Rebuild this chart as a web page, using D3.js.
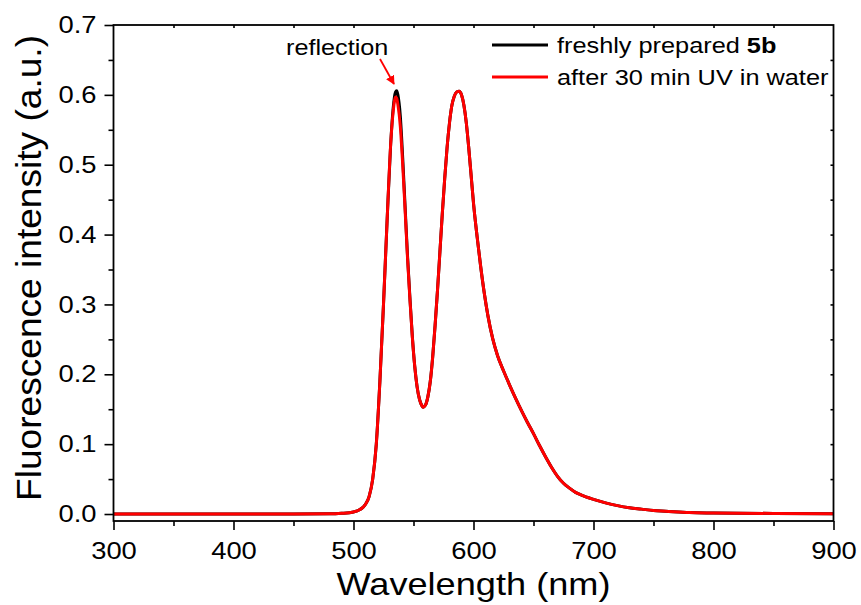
<!DOCTYPE html>
<html><head><meta charset="utf-8">
<script src="https://cdn.jsdelivr.net/npm/d3@7"></script>
<style>body{margin:0;background:#fff}svg{display:block}text{font-family:"Liberation Sans",Arial,sans-serif;fill:#000}</style>
</head><body>
<svg id="c" width="861" height="605"></svg>
<script>
const wavelength = [300,350,400,450,480,490,500,505,510,513,516,519,522,525,528,531,533,535,536,537,539,541,543,545,547,549,551,553,555,557,558,560,562,564,566,568,570,572,574,576,578,580,582,584,586,588,590,592,594,596,598,600,603,606,609,612,616,620,625,630,635,640,645,650,655,660,665,670,675,680,685,690,700,710,720,730,740,750,760,780,800,850,900];
const freshly = [0,0,0,0,0.0002,0.001,0.003,0.006,0.014,0.025,0.05,0.10,0.19,0.30,0.42,0.53,0.58,0.604,0.606,0.600,0.57,0.51,0.44,0.37,0.31,0.255,0.212,0.182,0.164,0.155,0.153,0.156,0.168,0.19,0.225,0.27,0.32,0.375,0.43,0.48,0.525,0.56,0.585,0.598,0.604,0.605,0.600,0.585,0.56,0.525,0.485,0.445,0.397,0.354,0.316,0.284,0.251,0.227,0.205,0.185,0.166,0.148,0.131,0.115,0.098,0.082,0.067,0.054,0.044,0.037,0.031,0.027,0.021,0.016,0.012,0.009,0.007,0.005,0.004,0.002,0.0015,0.0008,0.0005];
const afterUV = [0,0,0,0,0.0002,0.001,0.003,0.006,0.014,0.025,0.05,0.10,0.19,0.30,0.42,0.53,0.575,0.597,0.595,0.586,0.555,0.50,0.435,0.367,0.308,0.254,0.212,0.182,0.164,0.155,0.153,0.156,0.168,0.19,0.225,0.27,0.32,0.375,0.43,0.48,0.525,0.56,0.585,0.598,0.604,0.605,0.600,0.585,0.56,0.525,0.485,0.445,0.397,0.354,0.316,0.284,0.251,0.227,0.205,0.185,0.166,0.148,0.131,0.115,0.098,0.082,0.067,0.054,0.044,0.037,0.031,0.027,0.021,0.016,0.012,0.009,0.007,0.005,0.004,0.002,0.0015,0.0008,0.0005];
const xTicks = [300,400,500,600,700,800,900];
const yTicks = [0.0,0.1,0.2,0.3,0.4,0.5,0.6,0.7];
const seriesNames = ["freshly prepared ", "after 30 min UV in water"];
const seriesColors = ["#000000", "#ff0000"];

const svg = d3.select("#c");
const L=113.5, R=833.5, T=25, B=521;
const x = d3.scaleLinear().domain([300,900]).range([L,R]);
const y = d3.scaleLinear().domain([-0.01,0.7]).range([B,T]);

function stretch(sel,k){
  sel.each(function(){
    const len=this.getComputedTextLength();
    d3.select(this).attr("textLength",len*k).attr("lengthAdjust","spacingAndGlyphs");
  });
}

// curves
svg.append("clipPath").attr("id","cp").append("rect").attr("x",L).attr("y",T).attr("width",R-L).attr("height",B-T);
const line = d3.line().x(d=>x(d[0])).y(d=>y(d[1])).curve(d3.curveMonotoneX);
const g = svg.append("g").attr("clip-path","url(#cp)");
[freshly, afterUV].forEach((s,i)=>{
  g.append("path").datum(wavelength.map((w,j)=>[w,s[j]]))
   .attr("d",line).attr("fill","none").attr("stroke",seriesColors[i])
   .attr("stroke-width",3).attr("stroke-linejoin","round");
});

// axes
const xAx = svg.append("g").attr("transform",`translate(0,${B})`)
  .call(d3.axisBottom(x).tickValues(xTicks).tickFormat(d3.format("d")).tickSize(9).tickPadding(12));
const xMinor = svg.append("g").attr("transform",`translate(0,${B})`)
  .call(d3.axisBottom(x).tickValues(d3.range(350,900,100)).tickFormat("").tickSize(5));
const yAx = svg.append("g").attr("transform",`translate(${L},0)`)
  .call(d3.axisLeft(y).tickValues(yTicks).tickFormat(d3.format(".1f")).tickSize(9).tickPadding(8));
const yMinor = svg.append("g").attr("transform",`translate(${L},0)`)
  .call(d3.axisLeft(y).tickValues(d3.range(0.05,0.7,0.1)).tickFormat("").tickSize(5));
const xTop = svg.append("g").attr("transform",`translate(0,${T})`)
  .call(d3.axisBottom(x).tickValues(d3.range(350,900,50)).tickFormat("").tickSize(3));
const yRight = svg.append("g").attr("transform",`translate(${R},0)`)
  .call(d3.axisLeft(y).tickValues(d3.range(0.05,0.7,0.05)).tickFormat("").tickSize(3));
[xAx,xMinor,yAx,yMinor,xTop,yRight].forEach(a=>{
  a.select(".domain").remove();
  a.selectAll("line").attr("stroke","#000").attr("stroke-width",1.6);
  a.selectAll("text").style("font-family","'Liberation Sans',Arial,sans-serif").style("font-size","24px").attr("fill","#000");
});
stretch(xAx.selectAll("text"),1.14);
stretch(yAx.selectAll("text"),1.14);
svg.append("rect").attr("x",L).attr("y",T).attr("width",R-L).attr("height",B-T)
  .attr("fill","none").attr("stroke","#000").attr("stroke-width",1.8);

// titles
const xt = svg.append("text").attr("x",(L+R)/2).attr("y",595).attr("text-anchor","middle")
  .style("font-size","32px").text("Wavelength (nm)");
stretch(xt,1.13);
const yt = svg.append("text").attr("transform",`translate(41,268) rotate(-90)`).attr("text-anchor","middle")
  .style("font-size","35px").text("Fluorescence intensity (a.u.)");
stretch(yt,1.06);

// legend
const lg = svg.append("g");
[0,1].forEach(i=>{
  const yy = 45 + i*32;
  lg.append("line").attr("x1",492).attr("x2",548).attr("y1",yy).attr("y2",yy)
    .attr("stroke",seriesColors[i]).attr("stroke-width",3);
  const t = lg.append("text").attr("x",557).attr("y",yy+8).style("font-size","22px").text(seriesNames[i]);
  if(i===0) t.append("tspan").style("font-weight","bold").text("5b");
  stretch(t,1.15);
});

// annotation
const rt = svg.append("text").attr("x",286).attr("y",55).style("font-size","22px").text("reflection");
stretch(rt,1.146);
svg.append("defs").append("marker").attr("id","ah").attr("viewBox","0 0 10 10").attr("refX",9).attr("refY",5)
  .attr("markerWidth",5).attr("markerHeight",5).attr("orient","auto")
  .append("path").attr("d","M0,0L10,5L0,10z").attr("fill","#ff0000");
svg.append("line").attr("x1",380).attr("y1",59).attr("x2",394).attr("y2",84)
  .attr("stroke","#ff0000").attr("stroke-width",1.8).attr("marker-end","url(#ah)");
</script>
</body></html>
